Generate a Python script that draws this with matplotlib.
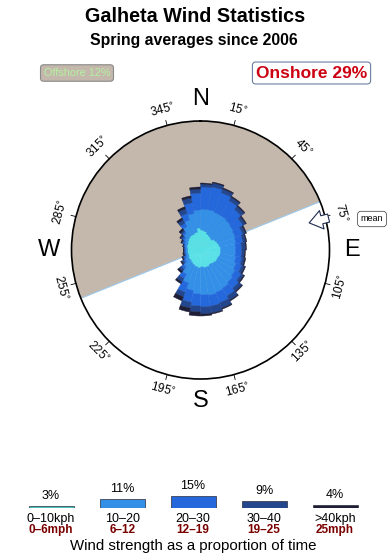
import numpy as np
import matplotlib
matplotlib.use('Agg')
import matplotlib.pyplot as plt

plt.rcParams['font.family'] = ['Liberation Sans', 'DejaVu Sans']

# wind rose data: 10 degree bins, cumulative outer radius of each speed class
# (units: circle edge = 129)
dirs = np.arange(5, 360, 10)
r_0_10 = [20, 19, 17, 16, 15, 17, 18, 19, 20, 20, 20, 19, 19, 18, 17, 18, 18, 17,
          18, 17, 16, 15, 14, 14, 13, 13, 13, 13, 14, 14, 15, 16, 17, 17, 18, 22]
r_10_20 = [41, 41, 40, 40, 39, 38, 37, 36, 35, 35, 36, 38, 40, 42, 44, 45, 46, 45,
           44, 41, 35, 28, 22, 18, 16, 15, 15, 15, 16, 17, 19, 22, 27, 32, 37, 40]
r_20_30 = [63, 64, 61, 57, 53, 49, 45, 43, 41, 41, 42, 44, 47, 50, 53, 56, 57, 57,
           56, 53, 45, 33, 25, 20, 18, 16, 16, 16, 17, 19, 21, 24, 31, 39, 48, 57]
r_30_40 = [66, 68, 65, 61, 57, 52, 48, 46, 45, 44, 45, 47, 50, 54, 58, 62, 64, 64,
           62, 59, 50, 37, 28, 22, 19, 17, 17, 17, 18, 20, 23, 26, 35, 44, 53, 61]
r_40_up = [67, 69, 66, 62, 58, 53, 49, 47, 46, 45, 46, 48, 51, 55, 59, 63, 65, 66,
           66, 63, 54, 39, 30, 23, 20, 18, 17, 17, 18, 21, 24, 28, 37, 46, 55, 63]
R_MAX = 129

speed_kph = ['0\u201310kph', '10\u201320', '20\u201330', '30\u201340', '>40kph']
speed_mph = ['0\u20136mph', '6\u201312', '12\u201319', '19\u201325', '25mph']
speed_pct = [3, 11, 15, 9, 4]
colors = ['#57e1e6', '#3390e6', '#2468dc', '#23468c', '#1e1e37']
leg_colors = ['#4cc4bc', '#3390e6', '#2468dc', '#23468c', '#1e1e37']

offshore_pct = 12
onshore_pct = 29
offshore_from, offshore_to = 248, 428   # offshore sector (compass deg)
mean_dir = 76
deg_ticks = [15, 45, 75, 105, 135, 165, 195, 225, 255, 285, 315, 345]
compass = {'N': 0, 'E': 90, 'S': 180, 'W': 270}

W, H = 390, 560
fig = plt.figure(figsize=(3.9, 5.6), dpi=100)


def fx(x):
    return x / W


def fy(y):
    return 1 - y / H


fig.text(fx(195), fy(17), 'Galheta Wind Statistics', ha='center', va='center',
         fontsize=14.2, fontweight='bold')
fig.text(fx(194), fy(41), 'Spring averages since 2006', ha='center', va='center',
         fontsize=11.4, fontweight='bold')

fig.text(fx(77), fy(73), f'Offshore {offshore_pct}%', ha='center', va='center',
         fontsize=7.8, color='#b4f2a0',
         bbox=dict(boxstyle='round,pad=0.3', fc='#c4b8ac', ec='#8a8a8a', lw=0.8))
fig.text(fx(311.5), fy(73), f'Onshore {onshore_pct}%', ha='center', va='center',
         fontsize=12.5, color='#cc0011', fontweight='bold',
         bbox=dict(boxstyle='round,pad=0.2', fc='white', ec='#6a7fa0', lw=0.8))

# rose
cx, cy = 200.5, 250
ax = fig.add_axes([fx(cx - R_MAX), fy(cy + R_MAX), 2 * R_MAX / W, 2 * R_MAX / H],
                  projection='polar')
ax.set_theta_zero_location('N')
ax.set_theta_direction(-1)
ax.set_ylim(0, R_MAX)
ax.set_xticks([])
ax.set_yticks([])
ax.grid(False)
ax.spines['polar'].set_linewidth(1.2)

mid = np.deg2rad((offshore_from + offshore_to) / 2)
ax.bar(mid, R_MAX, width=np.deg2rad(offshore_to - offshore_from), bottom=0,
       color='#c4b8ac', zorder=1)
ax.plot(np.deg2rad([offshore_to, offshore_to, offshore_from]), [R_MAX, 0, R_MAX],
        color='#9cc8ec', lw=0.8, zorder=1.5)

theta = np.deg2rad(dirs)
layers = [r_0_10, r_10_20, r_20_30, r_30_40, r_40_up]
base = np.zeros(len(dirs))
for r, c in zip(layers, colors):
    r = np.array(r, dtype=float)
    ax.bar(theta, r - base, width=np.deg2rad(10), bottom=base, color=c,
           edgecolor=c, lw=0.3, zorder=2)
    base = r

for d in deg_ticks:
    t = np.deg2rad(d)
    ax.plot([t, t], [R_MAX, 134], color='black', lw=0.6, clip_on=False, zorder=3)
    rot = ((-d + 90) % 180) - 90
    ax.text(t, 145, f'{d}$^{{\\circ}}$', rotation=rot, rotation_mode='anchor',
            ha='center', va='center', fontsize=8.5, clip_on=False)

for lab, d in compass.items():
    ax.text(np.deg2rad(d), 151, lab, ha='center', va='center', fontsize=17,
            clip_on=False)

ax.annotate('', xy=(np.deg2rad(mean_dir), 112), xytext=(np.deg2rad(mean_dir), 132),
            arrowprops=dict(arrowstyle='simple,head_length=0.55,head_width=0.8,tail_width=0.35',
                            fc='white', ec='#1e2a50', lw=0.8, mutation_scale=17,
                            shrinkA=0, shrinkB=0),
            annotation_clip=False, zorder=4)
fig.text(fx(372), fy(219), 'mean', ha='center', va='center', fontsize=6.5,
         bbox=dict(boxstyle='round,pad=0.35', fc='white', ec='#555555', lw=0.6))

# legend
leg_x = [51, 122.5, 193, 264, 335]
lax = fig.add_axes([0, fy(508), 1, 13 / H])
lax.set_xlim(0, W)
lax.set_ylim(0, 15.6)
lax.axis('off')
lax.bar(leg_x, speed_pct, width=45, color=leg_colors, edgecolor='#2a2a3a', lw=0.5)
for x, p in zip(leg_x, speed_pct):
    lax.annotate(f'{p}%', xy=(x, p), xytext=(0, 2.5), textcoords='offset points',
                 ha='center', va='bottom', fontsize=9, annotation_clip=False)

for x, k, m in zip(leg_x, speed_kph, speed_mph):
    fig.text(fx(x), fy(519), k, ha='center', va='center', fontsize=9)
    fig.text(fx(x), fy(530), m, ha='center', va='center', fontsize=8.5,
             color='#7a0000', fontweight='bold')

fig.text(fx(193), fy(546), 'Wind strength as a proportion of time', ha='center',
         va='center', fontsize=10.8)

fig.savefig('out.png', dpi=100)
